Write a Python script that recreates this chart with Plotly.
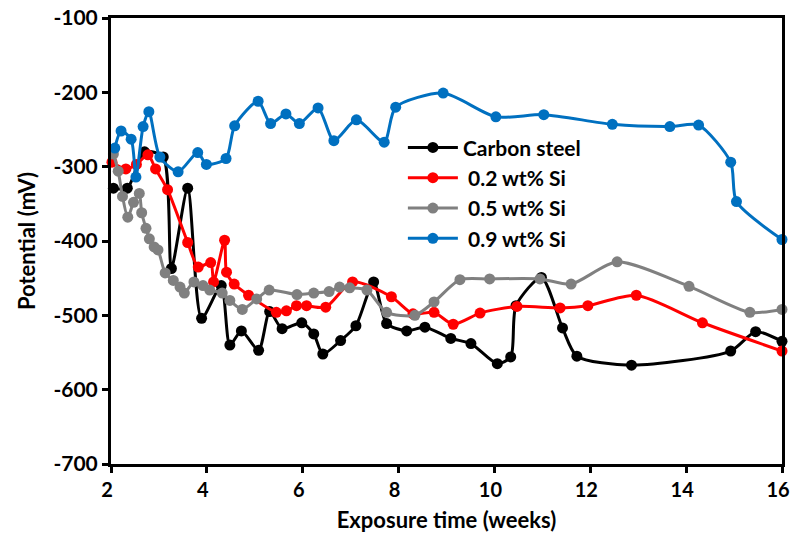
import plotly.graph_objects as go

# Carbon steel
cs_x = [2.05, 2.34, 2.70, 3.09, 3.26, 3.60, 3.89, 4.30, 4.48, 4.72, 5.08, 5.31, 5.57, 5.98, 6.23, 6.42, 6.79, 7.11, 7.48, 7.75, 8.17, 8.55, 9.09, 9.51, 10.06, 10.34, 10.45, 10.98, 11.42, 11.72, 12.86, 14.93, 15.45, 16.0]
cs_y = [-329, -329, -280, -287, -437, -329, -504, -460, -540, -521, -547, -495, -518, -510, -525, -552, -534, -514, -455, -511, -521, -516, -531, -538, -565, -556, -487, -449, -517, -555, -567, -548, -522, -535]

# 0.2 wt% Si
s2_x = [2.02, 2.31, 2.53, 2.77, 2.93, 3.18, 3.60, 3.82, 4.08, 4.14, 4.37, 4.41, 4.57, 4.87, 5.45, 5.66, 5.87, 6.08, 6.48, 7.04, 7.85, 8.30, 8.74, 9.14, 9.70, 10.47, 11.37, 11.95, 12.96, 14.34, 16.0]
s2_y = [-294, -303, -297, -284, -303, -331, -402, -435, -429, -455, -399, -442, -458, -473, -496, -494, -487, -487, -489, -455, -475, -498, -496, -512, -497, -488, -490, -487, -473, -510, -548]

# 0.5 wt% Si
s5_x = [2.05, 2.15, 2.24, 2.35, 2.47, 2.59, 2.64, 2.73, 2.80, 2.90, 2.98, 3.13, 3.30, 3.44, 3.53, 3.73, 3.92, 4.06, 4.32, 4.48, 4.74, 5.04, 5.30, 5.88, 6.23, 6.55, 6.77, 6.98, 7.34, 7.75, 8.34, 8.74, 9.28, 9.90, 10.95, 11.60, 12.56, 14.06, 15.33, 16.0]
s5_y = [-283, -306, -340, -368, -348, -336, -362, -383, -397, -408, -412, -443, -453, -462, -470, -455, -460, -466, -470, -480, -492, -478, -466, -472, -470, -468, -462, -463, -466, -496, -500, -482, -452, -451, -451, -458, -428, -461, -496, -492]

# 0.9 wt% Si
s9_x = [2.08, 2.21, 2.42, 2.52, 2.67, 2.79, 3.02, 3.40, 3.81, 3.99, 4.40, 4.58, 5.07, 5.33, 5.65, 5.93, 6.32, 6.65, 7.12, 7.70, 7.94, 8.93, 10.03, 11.03, 12.46, 13.66, 14.26, 14.93, 15.05, 16.0]
s9_y = [-275, -252, -263, -314, -246, -226, -287, -307, -281, -297, -289, -245, -212, -242, -229, -242, -221, -265, -237, -267, -220, -201, -233, -230, -243, -246, -244, -294, -347, -398]

names = ["Carbon steel", " 0.2 wt% Si", " 0.5 wt% Si", " 0.9 wt% Si"]
colors = ["#000000", "#FF0000", "#808080", "#0070C0"]
xs = [cs_x, s2_x, s5_x, s9_x]
ys = [cs_y, s2_y, s5_y, s9_y]

x_ticks = [2, 4, 6, 8, 10, 12, 14, 16]
y_ticks = [-100, -200, -300, -400, -500, -600, -700]

FONT = "Lato"

fig = go.Figure()
for x, y, n, c in zip(xs, ys, names, colors):
    fig.add_trace(go.Scatter(
        x=x, y=y, name=n, mode="lines+markers",
        line=dict(color=c, width=3, shape="spline", smoothing=0.7),
        marker=dict(color=c, size=11),
        cliponaxis=False,
    ))

fig.update_layout(
    width=790, height=540,
    margin=dict(l=111, r=8, t=18, b=76, autoexpand=False),
    paper_bgcolor="white", plot_bgcolor="white",
    font=dict(family=FONT, size=20, color="black", weight="bold"),
    showlegend=True,
    legend=dict(x=0.435, y=0.755, xanchor="left", yanchor="top",
                bgcolor="rgba(0,0,0,0)", font=dict(size=21, family=FONT, weight="bold"),
                tracegroupgap=0, itemwidth=50),
)
fig.update_xaxes(
    range=[2, 16], tickvals=x_ticks, ticktext=[str(v) for v in x_ticks],
    showgrid=False, zeroline=False, ticklabeloverflow="allow", automargin=False,
    ticklabelshift=-4,
    showline=True, linecolor="black", linewidth=3, mirror=True,
    ticks="outside", ticklen=6, tickwidth=3, tickcolor="black",
    tickfont=dict(size=20, family=FONT, weight="bold"),
    title=dict(text="Exposure time (weeks)", font=dict(size=22, family=FONT, weight="bold"), standoff=13),
)
fig.update_yaxes(
    range=[-700, -100], tickvals=y_ticks, ticktext=[str(v) for v in y_ticks],
    showgrid=False, zeroline=False, automargin=False,
    showline=True, linecolor="black", linewidth=3, mirror=True,
    ticks="outside", ticklen=6, tickwidth=3, tickcolor="black",
    tickfont=dict(size=21, family=FONT, weight="bold"),
    title=dict(text="Potential (mV)", font=dict(size=22, family=FONT, weight="bold"), standoff=12),
)

fig.write_html("out.html")
